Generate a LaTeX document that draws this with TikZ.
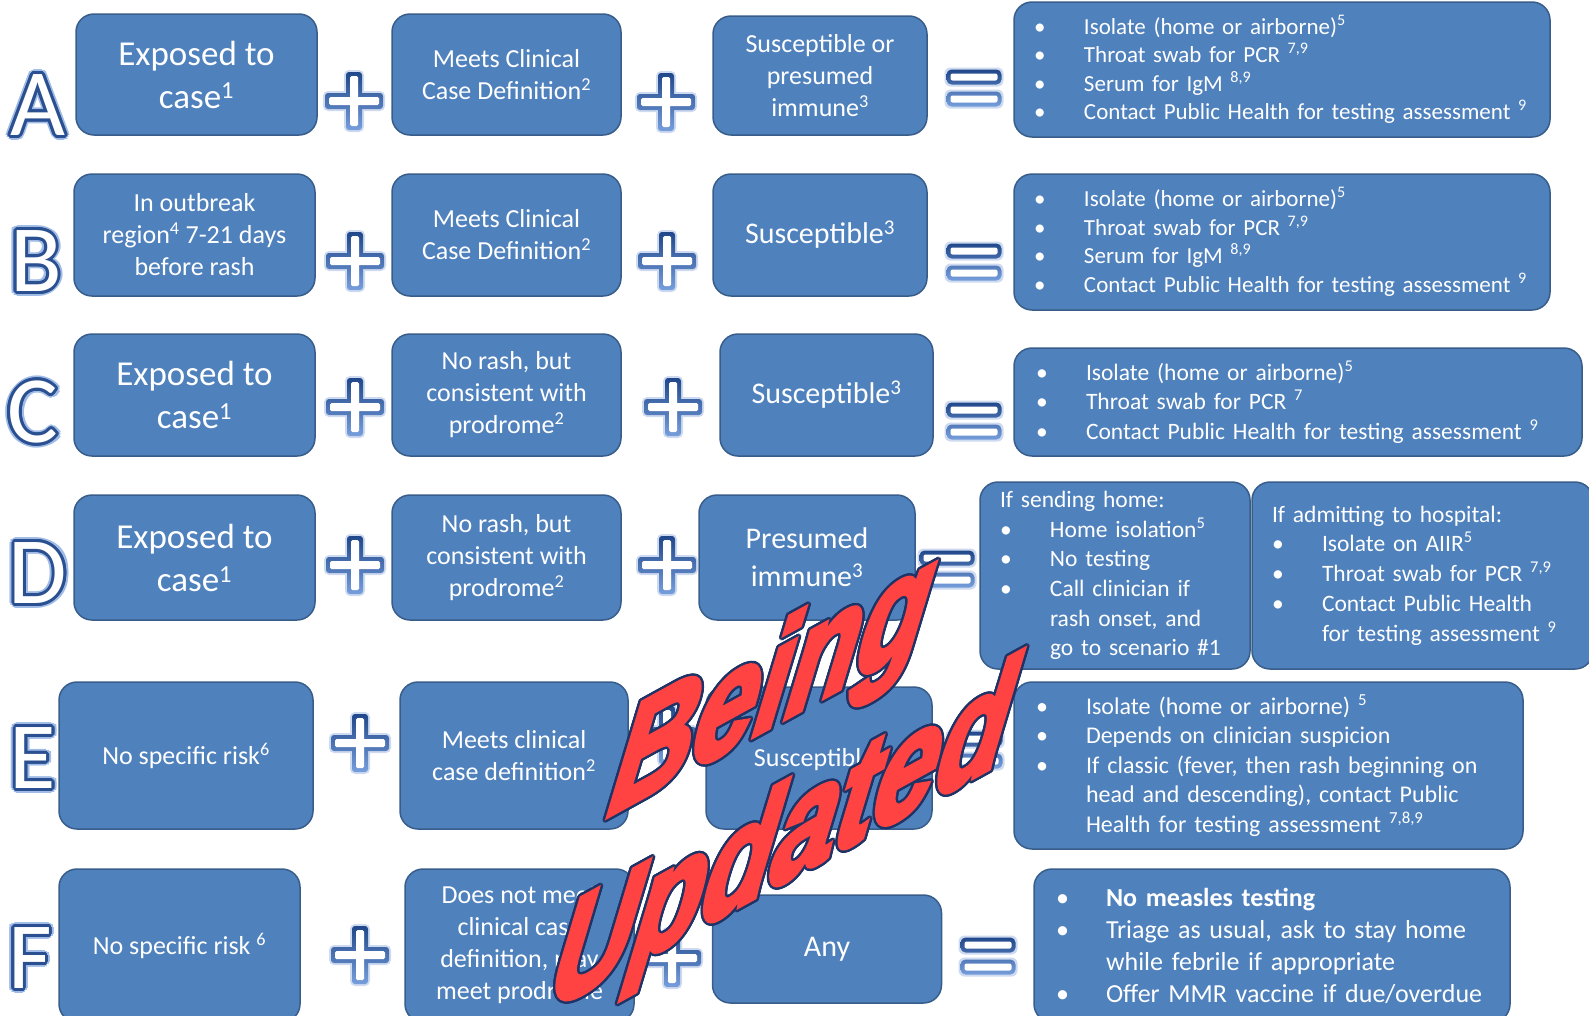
\documentclass[tikz,border=0pt]{standalone}
\usepackage{fontspec}
\setmainfont{Carlito}
\newfontface\wmfont{Liberation Sans Bold Italic}[FakeBold=4]
\usepackage{tikz}
\definecolor{boxfill}{RGB}{79,129,189}
\definecolor{boxline}{RGB}{56,93,138}
\definecolor{signdark}{RGB}{32,72,138}
\definecolor{signlight}{RGB}{118,158,220}
\definecolor{signglow}{RGB}{205,218,240}
\definecolor{letline}{RGB}{42,80,145}
\definecolor{letglowc}{RGB}{160,188,230}
\definecolor{wmred}{RGB}{255,66,66}
\definecolor{wmline}{RGB}{30,52,102}
\newcommand\bitem{\makebox[50pt][l]{\textbullet}}
\newcommand\bcont{\hspace*{50pt}}
\tikzset{
  cell/.style={
    draw=boxline, fill=boxfill, line width=1.5pt, rounded corners=18pt,
    text=white, align=center, inner sep=0pt,
  },
  list/.style={cell, align=left, inner xsep=22pt, text width=#1},
  fbig/.style={font=\fontsize{35}{43}\selectfont},
  fmid/.style={font=\fontsize{26}{32}\selectfont},
  fsus/.style={font=\fontsize{30}{36}\selectfont},
  fpres/.style={font=\fontsize{30}{38}\selectfont},
  flist/.style={font=\fontsize{23}{28.5}\selectfont},
  flistc/.style={font=\fontsize{23.5}{29.5}\selectfont},
  fsplit/.style={font=\fontsize{23.5}{29.7}\selectfont},
  fcase/.style={font=\fontsize{24}{29.5}\selectfont},
  rowlet/.style={inner sep=0pt, font=\fontsize{95}{95}\selectfont},
  rowletglow/.style={rowlet, text=letglowc},
  rowletedge/.style={rowlet, text=letline},
  rowletface/.style={rowlet, text=white},
  wm/.style={
    anchor=base west, inner sep=0pt,
    font=\wmfont\fontsize{114}{114}\selectfont,
    yslant=0.55, xslant=0.2, yscale=1.2,
  },
  wmedge/.style={wm, text=wmline},
  wmface/.style={wm, text=wmred},
  pics/plussign/.style={code={
    \fill[signglow, rounded corners=5pt] (-10,-31) rectangle (10,31) (-31,-10) rectangle (31,10);
    \shade[top color=signdark, bottom color=signlight, rounded corners=3pt]
      (-8,-29) rectangle (8,29) (-29,-8) rectangle (29,8);
    \fill[white, rounded corners=1.5pt] (-4,-25) rectangle (4,25) (-25,-4) rectangle (25,4);
  }},
  pics/equalsign/.style={code={
    \fill[signglow, rounded corners=6pt] (-29.5,-20.5) rectangle (29.5,-1.5) (-29.5,1.5) rectangle (29.5,20.5);
    \shade[top color=signdark, bottom color=signlight, rounded corners=5pt]
      (-27.5,-18.5) rectangle (27.5,-3.5) (-27.5,3.5) rectangle (27.5,18.5);
    \fill[white, rounded corners=2pt] (-23.5,-14.5) rectangle (23.5,-7.5) (-23.5,7.5) rectangle (23.5,14.5);
  }},
}

\begin{document}
\begin{tikzpicture}[x=1pt,y=-1pt]
  \useasboundingbox (0,0) rectangle (1589,1015);

  % Row A
  \node[cell, fbig, minimum width=241pt, minimum height=121pt] (a1) at (196.5,74.5) {Exposed to\\case\textsuperscript{1}};
  \node[cell, fmid, minimum width=229pt, minimum height=121pt] (a2) at (506.5,74.5) {Meets Clinical\\Case Definition\textsuperscript{2}};
  \node[cell, fmid, minimum width=214pt, minimum height=119pt] (a3) at (820,75.5) {Susceptible or\\presumed\\immune\textsuperscript{3}};
  \node[list=496pt, flist, inner xsep=20pt, minimum height=135pt] (a4) at (1282,69.5) {%
    \bitem Isolate (home or airborne)\textsuperscript{5}\\
    \bitem Throat swab for PCR \textsuperscript{7,9}\\
    \bitem Serum for IgM \textsuperscript{8,9}\\
    \bitem Contact Public Health for testing assessment \textsuperscript{9}};

  % Row B
  \node[cell, fmid, minimum width=241pt, minimum height=122pt] (b1) at (194.5,235) {In outbreak\\region\textsuperscript{4} 7-21 days\\before rash};
  \node[cell, fmid, minimum width=229pt, minimum height=122pt] (b2) at (506.5,235) {Meets Clinical\\Case Definition\textsuperscript{2}};
  \node[cell, fsus, minimum width=214pt, minimum height=122pt] (b3) at (820,235) {Susceptible\textsuperscript{3}};
  \node[list=496pt, flist, inner xsep=20pt, minimum height=136pt] (b4) at (1282,242) {%
    \bitem Isolate (home or airborne)\textsuperscript{5}\\
    \bitem Throat swab for PCR \textsuperscript{7,9}\\
    \bitem Serum for IgM \textsuperscript{8,9}\\
    \bitem Contact Public Health for testing assessment \textsuperscript{9}};

  % Row C
  \node[cell, fbig, minimum width=241pt, minimum height=122pt] (c1) at (194.5,395) {Exposed to\\case\textsuperscript{1}};
  \node[cell, fmid, minimum width=229pt, minimum height=122pt] (c2) at (506.5,395) {No rash, but\\consistent with\\prodrome\textsuperscript{2}};
  \node[cell, fsus, minimum width=213pt, minimum height=122pt] (c3) at (826.5,395) {Susceptible\textsuperscript{3}};
  \node[list=524pt, flistc, minimum height=108pt] (c4) at (1298,402) {%
    \bitem Isolate (home or airborne)\textsuperscript{5}\\
    \bitem Throat swab for PCR \textsuperscript{7}\\
    \bitem Contact Public Health for testing assessment \textsuperscript{9}};

  % Row D
  \node[cell, fbig, minimum width=241pt, minimum height=125pt] (d1) at (194.5,557.5) {Exposed to\\case\textsuperscript{1}};
  \node[cell, fmid, minimum width=229pt, minimum height=125pt] (d2) at (506.5,557.5) {No rash, but\\consistent with\\prodrome\textsuperscript{2}};
  \node[cell, fpres, minimum width=216pt, minimum height=125pt] (d3) at (807,557.5) {Presumed\\immune\textsuperscript{3}};
  \node[list=230pt, fsplit, inner xsep=20pt, minimum height=187pt] (d4a) at (1115,575.5) {%
    If sending home:\\
    \bitem Home isolation\textsuperscript{5}\\
    \bitem No testing\\
    \bitem Call clinician if\\
    \bcont rash onset, and\\
    \bcont go to scenario \#1};
  \node[list=301pt, fsplit, inner xsep=20pt, minimum height=187pt] (d4b) at (1422.5,575.5) {%
    If admitting to hospital:\\
    \bitem Isolate on AIIR\textsuperscript{5}\\
    \bitem Throat swab for PCR \textsuperscript{7,9}\\
    \bitem Contact Public Health\\
    \bcont for testing assessment \textsuperscript{9}};

  % Row E
  \node[cell, fmid, minimum width=254pt, minimum height=147pt] (e1) at (186,755.5) {No specific risk\textsuperscript{6}};
  \node[cell, fmid, minimum width=228pt, minimum height=147pt] (e2) at (514,755.5) {Meets clinical\\case definition\textsuperscript{2}};
  \node[cell, fmid, minimum width=226pt, minimum height=142pt] (e3) at (819,758) {Susceptible\textsuperscript{3}};
  \node[list=465pt, fcase, minimum height=167pt] (e4) at (1268.5,765.5) {%
    \bitem Isolate (home or airborne) \textsuperscript{5}\\
    \bitem Depends on clinician suspicion\\
    \bitem If classic (fever, then rash beginning on\\
    \bcont head and descending), contact Public\\
    \bcont Health for testing assessment \textsuperscript{7,8,9}};

  % Row F
  \node[cell, fmid, minimum width=241pt, minimum height=153pt] (f1) at (179.5,945.5) {No specific risk \textsuperscript{6}};
  \node[cell, fmid, minimum width=229pt, minimum height=153pt] (f2) at (519.5,945.5) {Does not meet\\clinical case\\definition, may\\meet prodrome};
  \node[cell, fsus, minimum width=229pt, minimum height=108pt] (f3) at (827,949) {Any};
  \node[list=432pt, fmid, minimum height=153pt] (f4) at (1272,945.5) {%
    \bitem \textbf{No measles testing}\\
    \bitem Triage as usual, ask to stay home\\
    \bcont while febrile if appropriate\\
    \bitem Offer MMR vaccine if due/overdue};

  % Plus and equal signs
  \foreach \px/\py in {354/101, 666/102, 355/261, 667/261, 355/407, 673/407,
                       355/565, 667/565, 360/743, 667/735, 360/955, 672/958}
    \pic at (\px,\py) {plussign};
  \foreach \px/\py in {974/88, 974/262, 974/421, 947/569, 975/750, 988/956}
    \pic at (\px,\py) {equalsign};

  % Row letters
  \foreach \l/\px/\py in {A/38/105, B/36/261, C/33/412, D/38/573, E/33/758, F/30/958} {
    \foreach \a in {0,30,...,330}
      \node[rowletglow, shift={(\a:5pt)}] at (\px,\py) {\l};
    \foreach \a in {0,22.5,...,337.5}
      \node[rowletedge, shift={(\a:3pt)}] at (\px,\py) {\l};
    \node[rowletface] (let\l) at (\px,\py) {\l};
  }

  % Watermark
  \foreach \a in {0,22.5,...,337.5} {
    \node[shift={(\a:2.4pt)}, wmedge] at (606,817) {Being};
    \node[shift={(\a:2.4pt)}, wmedge] at (546,1012) {Updated};
  }
  \node[wmface] (being) at (606,817) {Being};
  \node[wmface] (updated) at (546,1012) {Updated};
\end{tikzpicture}
\end{document}
